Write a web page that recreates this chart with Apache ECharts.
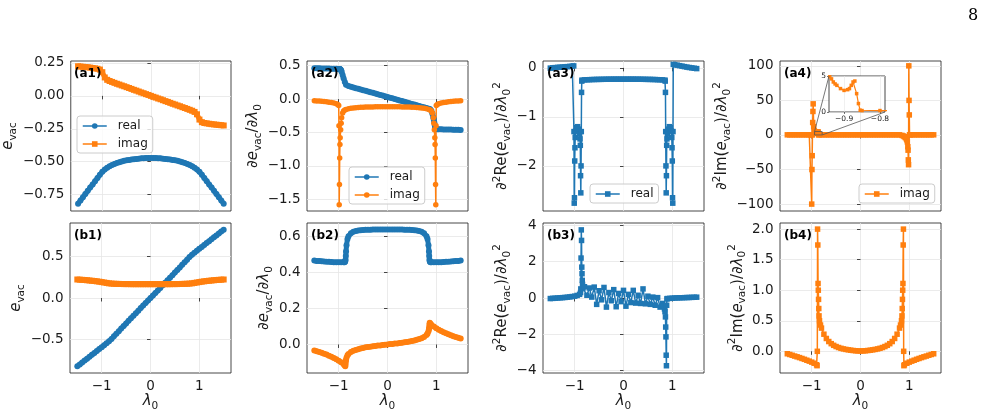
<!DOCTYPE html>
<html>
<head>
<meta charset="utf-8">
<script src="https://cdn.jsdelivr.net/npm/echarts@6/dist/echarts.min.js"></script>
<style>html,body{margin:0;padding:0;background:#fff}#main{width:991px;height:415px}</style>
</head>
<body>
<div id="main"></div>
<script>
// λ0 sample positions
const lamBase = [-1.5,-1.45,-1.4,-1.35,-1.3,-1.25,-1.2,-1.15,-1.1,-1.05,-1,-0.95,-0.9,-0.85,-0.8,-0.75,-0.7,-0.65,-0.6,-0.55,-0.5,-0.45,-0.4,-0.35,-0.3,-0.25,-0.2,-0.15,-0.1,-0.05,0,0.05,0.1,0.15,0.2,0.25,0.3,0.35,0.4,0.45,0.5,0.55,0.6,0.65,0.7,0.75,0.8,0.85,0.9,0.95,1,1.05,1.1,1.15,1.2,1.25,1.3,1.35,1.4,1.45,1.5];
const xA2 = [-1.5,-1.45,-1.4,-1.35,-1.3,-1.25,-1.2,-1.15,-1.1,-1.05,-1.02,-1,-0.995,-0.99,-0.985,-0.98,-0.975,-0.97,-0.96,-0.95,-0.94,-0.92,-0.9,-0.875,-0.85,-0.8,-0.75,-0.7,-0.65,-0.6,-0.55,-0.5,-0.45,-0.4,-0.35,-0.3,-0.25,-0.2,-0.15,-0.1,-0.05,0,0.05,0.1,0.15,0.2,0.25,0.3,0.35,0.4,0.45,0.5,0.55,0.6,0.65,0.7,0.75,0.8,0.85,0.875,0.9,0.92,0.94,0.95,0.96,0.97,0.975,0.98,0.985,0.99,0.995,1,1.02,1.05,1.1,1.15,1.2,1.25,1.3,1.35,1.4,1.45,1.5];
const xA3 = [-1.5,-1.45,-1.4,-1.35,-1.3,-1.25,-1.2,-1.15,-1.1,-1.05,-1.02,-1.015,-1.01,-1.005,-1,-0.995,-0.99,-0.98,-0.96,-0.94,-0.92,-0.9,-0.89,-0.885,-0.88,-0.875,-0.87,-0.865,-0.86,-0.855,-0.85,-0.8,-0.75,-0.7,-0.65,-0.6,-0.55,-0.5,-0.45,-0.4,-0.35,-0.3,-0.25,-0.2,-0.15,-0.1,-0.05,0,0.05,0.1,0.15,0.2,0.25,0.3,0.35,0.4,0.45,0.5,0.55,0.6,0.65,0.7,0.75,0.8,0.85,0.855,0.86,0.865,0.87,0.875,0.88,0.885,0.89,0.9,0.92,0.94,0.96,0.98,0.99,0.995,1,1.005,1.01,1.015,1.02,1.05,1.1,1.15,1.2,1.25,1.3,1.35,1.4,1.45,1.5];
const xA4 = [-1.5,-1.45,-1.4,-1.35,-1.3,-1.25,-1.2,-1.15,-1.1,-1.05,-1.02,-1,-0.995,-0.99,-0.985,-0.98,-0.975,-0.97,-0.96,-0.95,-0.94,-0.935,-0.93,-0.925,-0.92,-0.91,-0.9,-0.89,-0.885,-0.88,-0.875,-0.87,-0.865,-0.86,-0.855,-0.85,-0.8,-0.75,-0.7,-0.65,-0.6,-0.55,-0.5,-0.45,-0.4,-0.35,-0.3,-0.25,-0.2,-0.15,-0.1,-0.05,0,0.05,0.1,0.15,0.2,0.25,0.3,0.35,0.4,0.45,0.5,0.55,0.6,0.65,0.7,0.75,0.8,0.85,0.88,0.9,0.92,0.94,0.95,0.96,0.97,0.975,0.98,0.985,0.99,0.995,1,1.005,1.02,1.05,1.1,1.15,1.2,1.25,1.3,1.35,1.4,1.45,1.5];
const xB2 = [-1.5,-1.45,-1.4,-1.35,-1.3,-1.25,-1.2,-1.15,-1.1,-1.05,-1,-0.95,-0.9,-0.88,-0.87,-0.865,-0.86,-0.855,-0.85,-0.84,-0.82,-0.8,-0.75,-0.7,-0.65,-0.6,-0.55,-0.5,-0.45,-0.4,-0.35,-0.3,-0.25,-0.2,-0.15,-0.1,-0.05,0,0.05,0.1,0.15,0.2,0.25,0.3,0.35,0.4,0.45,0.5,0.55,0.6,0.65,0.7,0.75,0.8,0.82,0.84,0.85,0.855,0.86,0.865,0.87,0.88,0.9,0.95,1,1.05,1.1,1.15,1.2,1.25,1.3,1.35,1.4,1.45,1.5];
const xB3 = [-1.5,-1.45,-1.4,-1.35,-1.3,-1.25,-1.2,-1.15,-1.1,-1.05,-1,-0.95,-0.9,-0.88,-0.875,-0.87,-0.865,-0.86,-0.855,-0.85,-0.845,-0.84,-0.83,-0.8,-0.75,-0.7,-0.65,-0.6,-0.55,-0.5,-0.45,-0.4,-0.35,-0.3,-0.25,-0.2,-0.15,-0.1,-0.05,0,0.05,0.1,0.15,0.2,0.25,0.3,0.35,0.4,0.45,0.5,0.55,0.6,0.65,0.7,0.75,0.8,0.82,0.84,0.85,0.86,0.865,0.87,0.875,0.88,0.885,0.89,0.9,0.95,1,1.05,1.1,1.15,1.2,1.25,1.3,1.35,1.4,1.45,1.5];
const xB4 = [-1.5,-1.45,-1.4,-1.35,-1.3,-1.25,-1.2,-1.15,-1.1,-1.05,-1,-0.95,-0.9,-0.89,-0.885,-0.88,-0.875,-0.87,-0.865,-0.86,-0.855,-0.85,-0.84,-0.82,-0.8,-0.75,-0.7,-0.65,-0.6,-0.55,-0.5,-0.45,-0.4,-0.35,-0.3,-0.25,-0.2,-0.15,-0.1,-0.05,0,0.05,0.1,0.15,0.2,0.25,0.3,0.35,0.4,0.45,0.5,0.55,0.6,0.65,0.7,0.75,0.8,0.82,0.84,0.85,0.855,0.86,0.865,0.87,0.875,0.88,0.885,0.89,0.9,0.95,1,1.05,1.1,1.15,1.2,1.25,1.3,1.35,1.4,1.45,1.5];

// row a: e_vac and derivatives
const a1Real = [-0.820,-0.795,-0.771,-0.746,-0.722,-0.697,-0.673,-0.648,-0.624,-0.599,-0.577,-0.560,-0.546,-0.535,-0.525,-0.517,-0.510,-0.504,-0.499,-0.494,-0.490,-0.487,-0.484,-0.481,-0.479,-0.477,-0.475,-0.474,-0.473,-0.472,-0.472,-0.472,-0.473,-0.474,-0.475,-0.477,-0.479,-0.481,-0.484,-0.487,-0.490,-0.494,-0.499,-0.504,-0.510,-0.517,-0.525,-0.535,-0.546,-0.560,-0.577,-0.599,-0.624,-0.648,-0.673,-0.697,-0.722,-0.746,-0.771,-0.795,-0.820];
const a1Imag = [0.225,0.223,0.221,0.219,0.217,0.215,0.212,0.209,0.206,0.200,0.180,0.140,0.122,0.113,0.106,0.099,0.092,0.086,0.079,0.073,0.066,0.060,0.053,0.046,0.040,0.033,0.026,0.020,0.013,0.007,0.000,-0.007,-0.013,-0.020,-0.026,-0.033,-0.040,-0.046,-0.053,-0.060,-0.066,-0.073,-0.079,-0.086,-0.092,-0.099,-0.106,-0.113,-0.122,-0.140,-0.180,-0.200,-0.206,-0.209,-0.212,-0.215,-0.217,-0.219,-0.221,-0.223,-0.225];
const a2Real = [0.462,0.461,0.460,0.459,0.458,0.457,0.456,0.455,0.454,0.453,0.452,0.451,0.451,0.450,0.450,0.449,0.448,0.446,0.440,0.430,0.410,0.360,0.310,0.255,0.215,0.195,0.185,0.175,0.164,0.154,0.144,0.134,0.123,0.113,0.103,0.093,0.082,0.072,0.062,0.052,0.041,0.031,0.021,0.011,0.000,-0.010,-0.020,-0.030,-0.041,-0.051,-0.061,-0.072,-0.082,-0.092,-0.102,-0.113,-0.123,-0.133,-0.144,-0.152,-0.175,-0.22,-0.28,-0.31,-0.35,-0.39,-0.41,-0.425,-0.435,-0.44,-0.445,-0.448,-0.450,-0.452,-0.453,-0.454,-0.455,-0.456,-0.457,-0.458,-0.459,-0.460,-0.461];
const a2Imag = [-0.025,-0.027,-0.030,-0.033,-0.037,-0.041,-0.046,-0.052,-0.060,-0.070,-0.082,-0.095,-0.40,-1.58,-1.28,-0.88,-0.68,-0.58,-0.46,-0.36,-0.28,-0.21,-0.18,-0.165,-0.155,-0.145,-0.139,-0.134,-0.130,-0.127,-0.124,-0.122,-0.120,-0.119,-0.118,-0.117,-0.116,-0.115,-0.115,-0.114,-0.114,-0.114,-0.114,-0.114,-0.115,-0.115,-0.116,-0.117,-0.118,-0.119,-0.120,-0.122,-0.124,-0.127,-0.130,-0.134,-0.139,-0.145,-0.155,-0.165,-0.18,-0.21,-0.28,-0.36,-0.46,-0.58,-0.68,-0.88,-1.28,-1.58,-0.40,-0.095,-0.082,-0.070,-0.060,-0.052,-0.046,-0.041,-0.037,-0.033,-0.030,-0.027,-0.025];
const a3Real = [-0.005,0.0,0.005,0.01,0.013,0.017,0.021,0.025,0.03,0.035,0.04,-1.3,-2.76,-2.65,-1.9,-1.63,-1.42,-1.29,-1.22,-1.2,-1.25,-1.35,-1.45,-1.58,-2.2,-2.55,-2.0,-1.3,-0.5,-0.27,-0.25,-0.245,-0.243,-0.241,-0.239,-0.237,-0.236,-0.235,-0.234,-0.233,-0.232,-0.231,-0.231,-0.23,-0.23,-0.23,-0.23,-0.23,-0.23,-0.23,-0.23,-0.23,-0.231,-0.231,-0.232,-0.233,-0.234,-0.235,-0.236,-0.237,-0.239,-0.241,-0.243,-0.245,-0.25,-0.27,-0.5,-1.3,-2.0,-2.55,-2.2,-1.58,-1.45,-1.35,-1.25,-1.2,-1.22,-1.29,-1.42,-1.63,-1.9,-2.65,-2.76,-1.3,0.07,0.065,0.055,0.045,0.035,0.025,0.015,0.007,0.0,-0.008,-0.015];
const a4Imag = [0.2,0.2,0.2,0.2,0.2,0.2,0.2,0.2,0.2,0.2,0.3,-100,-50,-30,0,18,34,45,12,6.5,4.9,4.6,4.17,3.9,3.7,3.25,3.0,3.1,3.25,3.7,4.17,4.3,2.55,1.17,0.24,0.2,0.2,0.2,0.2,0.2,0.2,0.2,0.2,0.2,0.2,0.2,0.2,0.2,0.2,0.2,0.2,0.2,0.2,0.2,0.2,0.2,0.2,0.2,0.2,0.2,0.2,0.2,0.2,0.2,0.2,0.2,0.2,0.2,0.2,-0.6,-1.5,-2.5,-3.8,-5.5,-7,-10,-17,-22,-36,-43,100,50,29,0.3,0.2,0.2,0.2,0.2,0.2,0.2,0.2,0.2,0.2,0.2,0.2];

// row b
const b1Real = [-0.820,-0.797,-0.774,-0.751,-0.728,-0.705,-0.682,-0.659,-0.636,-0.613,-0.590,-0.567,-0.544,-0.520,-0.491,-0.460,-0.429,-0.398,-0.367,-0.336,-0.305,-0.274,-0.243,-0.213,-0.182,-0.152,-0.121,-0.091,-0.061,-0.030,0,0.030,0.061,0.091,0.121,0.152,0.182,0.213,0.243,0.274,0.305,0.336,0.367,0.398,0.429,0.460,0.491,0.520,0.544,0.567,0.590,0.613,0.636,0.659,0.682,0.705,0.728,0.751,0.774,0.797,0.820];
const b1Imag = [0.222,0.220,0.218,0.216,0.213,0.210,0.207,0.204,0.200,0.196,0.191,0.186,0.181,0.176,0.173,0.171,0.170,0.169,0.168,0.167,0.167,0.167,0.166,0.166,0.166,0.166,0.166,0.166,0.166,0.166,0.166,0.166,0.166,0.166,0.166,0.166,0.166,0.166,0.166,0.167,0.167,0.167,0.168,0.169,0.170,0.171,0.173,0.176,0.181,0.186,0.191,0.196,0.200,0.204,0.207,0.210,0.213,0.216,0.218,0.220,0.222];
const b2Real = [0.465,0.463,0.462,0.461,0.460,0.459,0.458,0.457,0.456,0.455,0.455,0.455,0.455,0.456,0.458,0.462,0.47,0.49,0.515,0.55,0.585,0.600,0.616,0.624,0.628,0.631,0.633,0.634,0.635,0.636,0.636,0.637,0.637,0.637,0.637,0.637,0.637,0.637,0.637,0.637,0.637,0.637,0.637,0.637,0.636,0.636,0.635,0.634,0.633,0.631,0.628,0.624,0.616,0.600,0.585,0.55,0.515,0.49,0.47,0.462,0.458,0.456,0.455,0.455,0.455,0.455,0.456,0.457,0.458,0.459,0.460,0.461,0.462,0.463,0.465];
const b2Imag = [-0.033,-0.037,-0.041,-0.046,-0.051,-0.056,-0.062,-0.068,-0.075,-0.082,-0.090,-0.099,-0.109,-0.114,-0.118,-0.120,-0.110,-0.095,-0.085,-0.073,-0.060,-0.053,-0.042,-0.035,-0.030,-0.026,-0.022,-0.019,-0.016,-0.014,-0.012,-0.010,-0.008,-0.006,-0.005,-0.003,-0.002,0,0.002,0.003,0.005,0.006,0.008,0.010,0.012,0.014,0.016,0.019,0.022,0.026,0.030,0.035,0.042,0.053,0.060,0.073,0.085,0.095,0.110,0.120,0.118,0.114,0.109,0.099,0.090,0.082,0.075,0.068,0.062,0.056,0.051,0.046,0.041,0.037,0.033];
const b3Real = [-0.03,-0.02,-0.01,0.0,0.01,0.02,0.03,0.045,0.06,0.08,0.1,0.14,0.2,0.3,0.5,2.2,3.75,3.17,1.7,1.34,0.97,0.75,0.55,0.62,0.15,0.55,0.05,0.6,-0.35,0.4,-0.1,0.58,-0.5,0.3,-0.15,0.46,-0.48,0.25,-0.2,0.42,-0.45,0.2,-0.25,0.42,-0.28,0.15,-0.3,0.5,-0.32,0.1,-0.35,0.05,-0.4,0.02,-0.5,-0.3,-0.45,-0.6,-0.75,-1.04,-1.6,-2.14,-3.15,-3.73,-0.4,-0.05,-0.03,-0.02,-0.01,0.0,0.005,0.01,0.015,0.02,0.025,0.03,0.035,0.04,0.045];
const b4Imag = [-0.04,-0.052,-0.065,-0.078,-0.09,-0.103,-0.117,-0.131,-0.146,-0.161,-0.177,-0.195,-0.22,-0.235,0.0,2.0,1.74,1.11,1.0,0.85,0.70,0.58,0.50,0.43,0.38,0.28,0.21,0.16,0.125,0.098,0.078,0.062,0.049,0.039,0.031,0.024,0.018,0.013,0.009,0.006,0.005,0.006,0.009,0.013,0.018,0.024,0.031,0.039,0.049,0.062,0.078,0.098,0.125,0.16,0.21,0.28,0.38,0.43,0.50,0.58,0.70,0.85,1.0,1.11,1.74,2.0,0.0,-0.235,-0.22,-0.195,-0.177,-0.161,-0.146,-0.131,-0.117,-0.103,-0.09,-0.078,-0.065,-0.052,-0.04];

// tick labels
const xTicks = [-1, 0, 1];
const insetX = [-0.942, -0.786];
const insetY = [0, 5];
const insetXTicks = [-0.9, -0.8];

const F = 'DejaVu Sans';
const TXT = '#1a1a1a';
const BLUE = '#1f77b4', ORANGE = '#ff7f0e';
const minus = s => s.replace('-', '\u2212');
const fmt = d => v => minus(Number(v).toFixed(d));

const rich = {
    n: {fontFamily: F, fontSize: 15, color: TXT, lineHeight: 21},
    it: {fontFamily: F, fontSize: 15, fontStyle: 'italic', color: TXT, lineHeight: 21},
    sub: {fontFamily: F, fontSize: 10.5, color: TXT, lineHeight: 11, verticalAlign: 'bottom'},
    sup: {fontFamily: F, fontSize: 10.5, color: TXT, lineHeight: 11, verticalAlign: 'top'}
};
const nameE = '{it|e}{sub|vac}';
const nameD1 = '{n|∂}{it|e}{sub|vac}{n|/∂}{it|λ}{sub|0}';
const nameRe = '{n|∂}{sup|2}{n|Re(}{it|e}{sub|vac}{n|)/∂}{it|λ}{sub|0}{sup|2}';
const nameIm = '{n|∂}{sup|2}{n|Im(}{it|e}{sub|vac}{n|)/∂}{it|λ}{sub|0}{sup|2}';

const panels = [
    {tag: '(a1)', left: 70, top: 61, yMin: -0.875, yMax: 0.265, ticks: [-0.75, -0.5, -0.25, 0, 0.25], dec: 2, name: nameE, gap: 50},
    {tag: '(a2)', left: 307, top: 61, yMin: -1.675, yMax: 0.57, ticks: [-1.5, -1, -0.5, 0, 0.5], dec: 1, name: nameD1, gap: 40},
    {tag: '(a3)', left: 543, top: 61, yMin: -2.92, yMax: 0.14, ticks: [-2, -1, 0], dec: 0, name: nameRe, gap: 28},
    {tag: '(a4)', left: 780, top: 61, yMin: -110, yMax: 107, ticks: [-100, -50, 0, 50, 100], dec: 0, name: nameIm, gap: 45},
    {tag: '(b1)', left: 70, top: 223, yMin: -0.9, yMax: 0.9, ticks: [-0.5, 0, 0.5], dec: 1, name: nameE, gap: 35},
    {tag: '(b2)', left: 307, top: 223, yMin: -0.158, yMax: 0.673, ticks: [0, 0.2, 0.4, 0.6], dec: 1, name: nameD1, gap: 32},
    {tag: '(b3)', left: 543, top: 223, yMin: -4.13, yMax: 4.13, ticks: [-4, -2, 0, 2, 4], dec: 0, name: nameRe, gap: 26},
    {tag: '(b4)', left: 780, top: 223, yMin: -0.355, yMax: 2.1, ticks: [0, 0.5, 1, 1.5, 2], dec: 1, name: nameIm, gap: 25}
];

const grids = [], xAxes = [], yAxes = [], titles = [];
titles.push({text: '8', left: 968, top: 8, padding: 0, textStyle: {fontFamily: 'DejaVu Serif', fontSize: 16, fontWeight: 'normal', color: '#000'}});
panels.forEach(function (p, i) {
    const bottomRow = i >= 4;
    grids.push({left: p.left, top: p.top, width: 161, height: 150, show: true, borderColor: TXT, borderWidth: 0.8, backgroundColor: 'transparent'});
    xAxes.push({
        type: 'value', gridIndex: i, min: -1.65, max: 1.65,
        axisLine: {show: false},
        axisTick: {show: true, length: 3.5, customValues: xTicks, lineStyle: {color: TXT, width: 0.8}},
        axisLabel: {show: bottomRow, customValues: xTicks, margin: 6, fontFamily: F, fontSize: 13.5, color: TXT, formatter: fmt(0)},
        splitLine: {show: true, lineStyle: {color: '#e6e6e6', width: 0.8}},
        name: bottomRow ? '{it|λ}{sub|0}' : '', nameLocation: 'middle', nameGap: 18,
        nameTextStyle: {rich: rich}
    });
    yAxes.push({
        type: 'value', gridIndex: i, min: p.yMin, max: p.yMax,
        axisLine: {show: false},
        axisTick: {show: true, length: 3.5, customValues: p.ticks, lineStyle: {color: TXT, width: 0.8}},
        axisLabel: {customValues: p.ticks, margin: 6.5, fontFamily: F, fontSize: 13.5, color: TXT, formatter: fmt(p.dec)},
        splitLine: {show: true, lineStyle: {color: '#e6e6e6', width: 0.8}},
        name: p.name, nameLocation: 'middle', nameRotate: 90, nameGap: p.gap,
        nameTextStyle: {rich: rich}
    });
    titles.push({text: p.tag, left: p.left + 4, top: p.top + 7, padding: 0,
        textStyle: {fontFamily: F, fontSize: 12, fontWeight: 'bold', color: '#000'}});
});

// inset of (a4)
grids.push({left: 829, top: 76, width: 56, height: 36, show: true, borderColor: TXT, borderWidth: 0.8, backgroundColor: '#fff', z: 3});
xAxes.push({
    type: 'value', gridIndex: 8, min: insetX[0], max: insetX[1], z: 4,
    axisLine: {show: false},
    axisTick: {length: 2, customValues: insetXTicks, lineStyle: {color: TXT, width: 0.6}},
    axisLabel: {customValues: insetXTicks, margin: 3, fontFamily: F, fontSize: 7.5, color: TXT, formatter: fmt(1)},
    splitLine: {show: true, lineStyle: {color: '#e6e6e6', width: 0.6}}
});
yAxes.push({
    type: 'value', gridIndex: 8, min: insetY[0], max: insetY[1], z: 4,
    axisLine: {show: false},
    axisTick: {length: 2, customValues: insetY, lineStyle: {color: TXT, width: 0.6}},
    axisLabel: {customValues: insetY, margin: 3, fontFamily: F, fontSize: 7.5, color: TXT, formatter: fmt(0)},
    splitLine: {show: true, lineStyle: {color: '#e6e6e6', width: 0.6}}
});

// thick = dense marker band in the original, thin = spiky traces
function line(name, idx, xs, ys, color, symbol, thick, size, z) {
    return {
        type: 'line', name: name, xAxisIndex: idx, yAxisIndex: idx,
        data: xs.map((x, k) => [x, ys[k]]),
        symbol: symbol, symbolSize: size || (thick ? 6 : 5.5), showAllSymbol: true,
        lineStyle: {color: color, width: thick ? 5 : 1.5}, itemStyle: {color: color},
        animation: false, z: z || 2, clip: true
    };
}

const series = [
    line('real_a1', 0, lamBase, a1Real, BLUE, 'circle', true),
    line('imag_a1', 0, lamBase, a1Imag, ORANGE, 'rect', true),
    line('real_a2', 1, xA2, a2Real, BLUE, 'circle', true),
    line('imag_a2', 1, xA2, a2Imag, ORANGE, 'circle', false),
    line('real_a3', 2, xA3, a3Real, BLUE, 'rect', false),
    line('imag_a4', 3, xA4, a4Imag, ORANGE, 'rect', false),
    line('real_b1', 4, lamBase, b1Real, BLUE, 'circle', true),
    line('imag_b1', 4, lamBase, b1Imag, ORANGE, 'rect', true),
    line('real_b2', 5, xB2, b2Real, BLUE, 'circle', true),
    line('imag_b2', 5, xB2, b2Imag, ORANGE, 'circle', true),
    line('real_b3', 6, xB3, b3Real, BLUE, 'rect', false),
    line('imag_b4', 7, xB4, b4Imag, ORANGE, 'rect', false),
    line('inset_a4', 8, xA4, a4Imag, ORANGE, 'rect', false, 3.5, 5)
];
series[series.length - 1].lineStyle.width = 1.2;

const legendBase = {
    orient: 'vertical', itemWidth: 24, itemHeight: 7, itemGap: 6, padding: [4, 5, 3, 5],
    selectedMode: false,
    backgroundColor: 'rgba(255,255,255,0.8)', borderColor: '#cccccc', borderWidth: 1, borderRadius: 3,
    textStyle: {fontFamily: F, fontSize: 12, color: TXT, padding: [0, 0, 0, 6]},
    formatter: n => n.split('_')[0]
};
// legend lines are thin in the original
const legendItem = n => ({name: n, lineStyle: {width: 1.5}});
const legends = [
    Object.assign({}, legendBase, {data: ['real_a1', 'imag_a1'].map(legendItem), left: 77, top: 116}),
    Object.assign({}, legendBase, {data: ['real_a2', 'imag_a2'].map(legendItem), left: 349, top: 167}),
    Object.assign({}, legendBase, {data: ['real_a3'].map(legendItem), left: 590, top: 184}),
    Object.assign({}, legendBase, {data: ['imag_a4'].map(legendItem), left: 859, top: 184})
];

const chart = echarts.init(document.getElementById('main'), null, {renderer: 'canvas'});
chart.setOption({
    animation: false,
    backgroundColor: '#fff',
    textStyle: {fontFamily: F},
    title: titles,
    grid: grids,
    xAxis: xAxes,
    yAxis: yAxes,
    legend: legends,
    series: series
});

// zoom box in (a4) and its connector lines to the inset
const px = (idx, v) => chart.convertToPixel({xAxisIndex: idx, yAxisIndex: idx}, v);
const r0 = px(3, [insetX[0], insetY[1]]), r1 = px(3, [insetX[1], insetY[0]]);
const i0 = px(8, [insetX[0], insetY[1]]), i1 = px(8, [insetX[1], insetY[0]]);
const edge = {stroke: '#555', lineWidth: 0.8, fill: 'none'};
chart.setOption({
    graphic: [
        {type: 'rect', z: 6, shape: {x: r0[0], y: r0[1], width: r1[0] - r0[0], height: r1[1] - r0[1]}, style: edge},
        {type: 'line', z: 6, shape: {x1: r0[0], y1: r0[1], x2: i0[0], y2: i0[1]}, style: edge},
        {type: 'line', z: 6, shape: {x1: r1[0], y1: r1[1], x2: i1[0], y2: i1[1]}, style: edge}
    ]
});
</script>
</body>
</html>
